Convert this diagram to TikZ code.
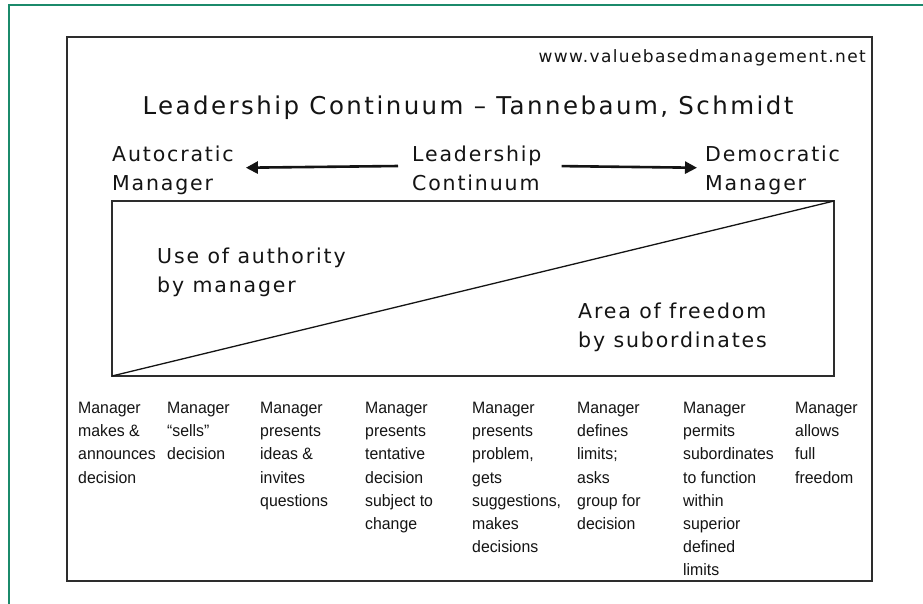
\documentclass[tikz,border=0pt]{standalone}
\usepackage{fontspec}
\usetikzlibrary{arrows.meta}
\newfontfamily\vfont[LetterSpace=9]{DejaVu Sans}
\newfontfamily\titlefont[LetterSpace=10]{DejaVu Sans}
\newfontfamily\urlfont[LetterSpace=8]{DejaVu Sans}
\newfontfamily\colfont[FakeStretch=0.96]{Liberation Sans}
\definecolor{framegreen}{RGB}{27,138,107}
\definecolor{ink}{RGB}{20,20,20}
\definecolor{boxline}{RGB}{45,45,45}
\begin{document}
\begin{tikzpicture}[x=1pt,y=-1pt,
  midlabel/.style={font=\vfont\fontsize{20.5}{29}\selectfont, align=left, anchor=base west, inner sep=0pt, text=ink},
  collabel/.style={font=\colfont\fontsize{16.5}{23.2}\selectfont, align=left, anchor=base west, inner sep=0pt, text=ink},
  bigarrow/.style={line width=2.6pt, ink, -{Triangle[length=12pt,width=12pt]}}]
\useasboundingbox[fill=white] (0,0) rectangle (923,604);
% outer green frame
\draw[framegreen, line width=2.5pt] (9,5) rectangle (940,620);
% inner black frame
\draw[boxline, line width=1.6pt] (67,37) rectangle (872,581);
% url and title
\node[font=\urlfont\fontsize{17}{20}\selectfont, anchor=base east, inner sep=0pt, text=ink] (url) at (866,63) {www.valuebasedmanagement.net};
\node[font=\titlefont\fontsize{24.5}{30}\selectfont, anchor=base, inner sep=0pt, text=ink] (title) at (468,115) {Leadership Continuum – Tannebaum, Schmidt};
% continuum labels (anchored at the baseline of their last line)
\node[midlabel] (auto) at (112,191) {Autocratic\\Manager};
\node[midlabel] (lc) at (412,191) {Leadership\\Continuum};
\node[midlabel] (demo) at (705,191) {Democratic\\Manager};
\draw[bigarrow, shorten <=14pt, shorten >=12pt] ([yshift=3pt]lc.west) -- ([yshift=3pt]auto.east);
\draw[bigarrow, shorten <=20pt, shorten >=8pt] ([yshift=3pt]lc.east) -- ([yshift=3pt]demo.west);
% triangle box
\draw[boxline, line width=1.4pt] (112,201) rectangle (834,376);
\draw[ink, line width=1.3pt] (112,376) -- (834,201);
\node[midlabel] (use) at (157,292) {Use of authority\\by manager};
\node[midlabel] (area) at (578,347) {Area of freedom\\by subordinates};
% columns (anchored at the baseline of their last line)
\node[collabel] (c1) at (78,483.1) {Manager\\makes \&\\announces\\decision};
\node[collabel] (c2) at (167,459.9) {Manager\\“sells”\\decision};
\node[collabel] (c3) at (260,506.3) {Manager\\presents\\ideas \&\\invites\\questions};
\node[collabel] (c4) at (365,529.5) {Manager\\presents\\tentative\\decision\\subject to\\change};
\node[collabel] (c5) at (472,552.7) {Manager\\presents\\problem,\\gets\\suggestions,\\makes\\decisions};
\node[collabel] (c6) at (577,529.5) {Manager\\defines\\limits;\\asks\\group for\\decision};
\node[collabel] (c7) at (683,575.9) {Manager\\permits\\subordinates\\to function\\within\\superior\\defined\\limits};
\node[collabel] (c8) at (795,483.1) {Manager\\allows\\full\\freedom};
\end{tikzpicture}
\end{document}
